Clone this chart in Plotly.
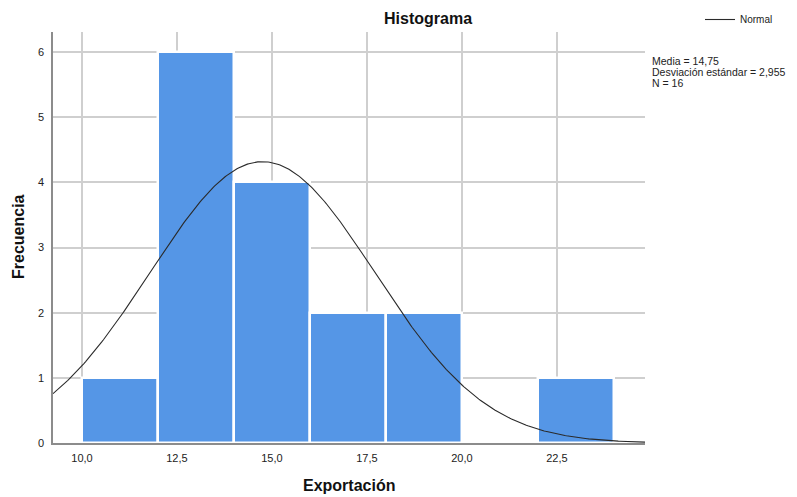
import numpy as np
import plotly.graph_objects as go

# Data
bin_edges = [10, 12, 14, 16, 18, 20, 22, 24]
counts = [1, 6, 4, 2, 2, 0, 1]
media = 14.75
desv = 2.955
n = 16
x_tickvals = [10.0, 12.5, 15.0, 17.5, 20.0, 22.5]
x_ticktext = ["10,0", "12,5", "15,0", "17,5", "20,0", "22,5"]
y_tickvals = [0, 1, 2, 3, 4, 5, 6]

centers = [(a + b) / 2 for a, b in zip(bin_edges[:-1], bin_edges[1:])]
widths = [b - a for a, b in zip(bin_edges[:-1], bin_edges[1:])]
bw = widths[0]

x_range = [9.237, 24.82]
xc = np.linspace(x_range[0], x_range[1], 400)
yc = n * bw * np.exp(-0.5 * ((xc - media) / desv) ** 2) / (desv * np.sqrt(2 * np.pi))

FONT = "Liberation Sans, Arial, sans-serif"
OFF = 8  # page body margin
W, H = 781, 489
# plot area in reference (window) pixels
X0, X1, Y0, Y1 = 53, 645, 32, 443
L, R, T, B = X0 - OFF, W - (X1 - OFF), Y0 - OFF, H - (Y1 - OFF)
PW, PH = X1 - X0, Y1 - Y0

def px(x):
    return (x - X0) / PW

def py(y):
    return (Y1 - y) / PH

fig = go.Figure()
fig.add_trace(go.Bar(
    x=centers, y=counts, width=widths,
    marker=dict(color="#5596E6", line=dict(color="white", width=2.5)),
    showlegend=False, hoverinfo="x+y",
))
fig.add_trace(go.Scatter(
    x=xc, y=yc, mode="lines", name="Normal",
    line=dict(color="#2a2a2a", width=1.1),
))

stats_lines = [
    f"Media = {media:.2f}".replace(".", ","),
    f"Desviación estándar = {desv:.3f}".replace(".", ","),
    f"N = {n}",
]
stats_y = [61, 72, 83]

annotations = [
    dict(text="<b>Histograma</b>", xref="paper", yref="paper",
         x=px(428), y=py(18), xanchor="center", yanchor="middle",
         showarrow=False, font=dict(size=16, family=FONT, color="#111111")),
    dict(text="<b>Exportación</b>", xref="paper", yref="paper",
         x=px(349), y=py(485), xanchor="center", yanchor="middle",
         showarrow=False, font=dict(size=16, family=FONT, color="#111111")),
    dict(text="<b>Frecuencia</b>", xref="paper", yref="paper",
         x=px(19), y=py(237), xanchor="center", yanchor="middle", textangle=-90,
         showarrow=False, font=dict(size=16, family=FONT, color="#111111")),
]
for t, yy in zip(stats_lines, stats_y):
    annotations.append(dict(text=t, xref="paper", yref="paper", x=px(650), y=py(yy),
                            xanchor="left", yanchor="middle", align="left", showarrow=False,
                            font=dict(size=10.5, family=FONT, color="#222222")))

fig.update_layout(
    width=W, height=H,
    margin=dict(l=L, r=R, t=T, b=B, autoexpand=False),
    paper_bgcolor="white", plot_bgcolor="white",
    font=dict(family=FONT, size=11, color="#222222"),
    bargap=0,
    showlegend=True,
    legend=dict(x=px(700), y=py(5), xanchor="left", yanchor="top",
                font=dict(size=10, family=FONT, color="#222222"),
                bgcolor="rgba(0,0,0,0)", itemwidth=30),
    xaxis=dict(range=x_range, tickvals=x_tickvals, ticktext=x_ticktext,
               showgrid=True, gridcolor="#cfcfcf", gridwidth=1.5,
               showline=True, linecolor="#8c8c8c", linewidth=1.5,
               ticks="", zeroline=False, ticklabelstandoff=4, automargin=False),
    yaxis=dict(range=[0, 6.31], tickvals=y_tickvals,
               showgrid=True, gridcolor="#cfcfcf", gridwidth=1.5,
               showline=True, linecolor="#8c8c8c", linewidth=1.5,
               ticks="", zeroline=False, ticklabelstandoff=5, automargin=False),
    annotations=annotations,
)

fig.write_html("out.html")
